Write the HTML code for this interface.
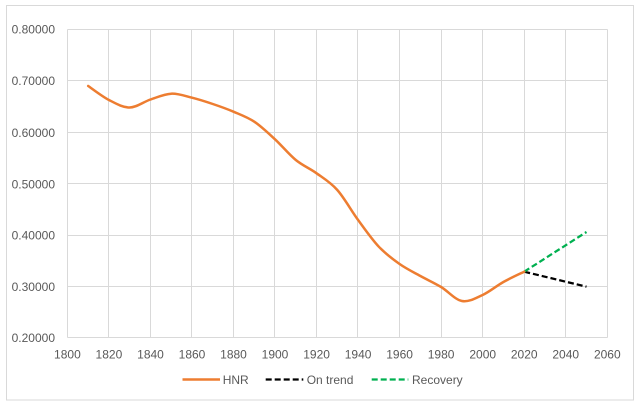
<!DOCTYPE html>
<html>
<head>
<meta charset="utf-8">
<style>
  html, body { margin: 0; padding: 0; background: #ffffff; }
  body { width: 639px; height: 406px; overflow: hidden; }
  svg { display: block; }
  text { font-family: "Liberation Sans", Arial, sans-serif; font-size: 12px; fill: #595959; }
</style>
</head>
<body>
<svg width="639" height="406" viewBox="0 0 639 406" xmlns="http://www.w3.org/2000/svg">
  <rect x="0" y="0" width="639" height="406" fill="#ffffff"/>
  <rect x="6.5" y="5.5" width="627" height="394.5" fill="#ffffff" stroke="#d9d9d9" stroke-width="1"/>

  <!-- horizontal gridlines -->
  <g stroke="#d9d9d9" stroke-width="1" shape-rendering="crispEdges">
    <line x1="67.4" y1="29.5" x2="607.3" y2="29.5"/>
    <line x1="67.4" y1="80.5" x2="607.3" y2="80.5"/>
    <line x1="67.4" y1="132.5" x2="607.3" y2="132.5"/>
    <line x1="67.4" y1="183.5" x2="607.3" y2="183.5"/>
    <line x1="67.4" y1="235.5" x2="607.3" y2="235.5"/>
    <line x1="67.4" y1="286.5" x2="607.3" y2="286.5"/>
    <line x1="67.4" y1="337.5" x2="607.3" y2="337.5"/>
  </g>
  <!-- vertical gridlines -->
  <g stroke="#d9d9d9" stroke-width="1" shape-rendering="crispEdges">
    <line x1="67.5" y1="29.5" x2="67.5" y2="337.5"/>
    <line x1="108.5" y1="29.5" x2="108.5" y2="337.5"/>
    <line x1="150.5" y1="29.5" x2="150.5" y2="337.5"/>
    <line x1="191.5" y1="29.5" x2="191.5" y2="337.5"/>
    <line x1="233.5" y1="29.5" x2="233.5" y2="337.5"/>
    <line x1="274.5" y1="29.5" x2="274.5" y2="337.5"/>
    <line x1="316.5" y1="29.5" x2="316.5" y2="337.5"/>
    <line x1="357.5" y1="29.5" x2="357.5" y2="337.5"/>
    <line x1="399.5" y1="29.5" x2="399.5" y2="337.5"/>
    <line x1="441.5" y1="29.5" x2="441.5" y2="337.5"/>
    <line x1="482.5" y1="29.5" x2="482.5" y2="337.5"/>
    <line x1="524.5" y1="29.5" x2="524.5" y2="337.5"/>
    <line x1="565.5" y1="29.5" x2="565.5" y2="337.5"/>
    <line x1="607.5" y1="29.5" x2="607.5" y2="337.5"/>
  </g>

  <!-- y labels -->
  <g text-anchor="end">
    <text x="55" y="33.6">0.80000</text>
    <text x="55" y="84.9">0.70000</text>
    <text x="55" y="136.9">0.60000</text>
    <text x="55" y="188.3">0.50000</text>
    <text x="55" y="239.6">0.40000</text>
    <text x="55" y="290.9">0.30000</text>
    <text x="55" y="341.9">0.20000</text>
  </g>

  <!-- x labels -->
  <g text-anchor="middle">
    <text x="67.4" y="358.3">1800</text>
    <text x="108.9" y="358.3">1820</text>
    <text x="150.5" y="358.3">1840</text>
    <text x="192.0" y="358.3">1860</text>
    <text x="233.5" y="358.3">1880</text>
    <text x="275.0" y="358.3">1900</text>
    <text x="316.6" y="358.3">1920</text>
    <text x="358.1" y="358.3">1940</text>
    <text x="399.6" y="358.3">1960</text>
    <text x="441.1" y="358.3">1980</text>
    <text x="482.7" y="358.3">2000</text>
    <text x="524.2" y="358.3">2020</text>
    <text x="565.7" y="358.3">2040</text>
    <text x="607.3" y="358.3">2060</text>
  </g>

  <!-- projections -->
  <line x1="524.2" y1="271.7" x2="586.5" y2="286.7" stroke="#000000" stroke-width="2.25" stroke-dasharray="6 3"/>
  <line x1="524.2" y1="271.7" x2="586.5" y2="232" stroke="#00B050" stroke-width="2.25" stroke-dasharray="6 3"/>

  <!-- HNR series -->
  <path fill="none" stroke="#ED7D31" stroke-width="2.5" stroke-linecap="round" stroke-linejoin="round"
    d="M88.2,86
    C91.66,88.33 102.08,96.42 109.0,100
    C115.92,103.58 122.78,107.58 129.7,107.5
    C136.62,107.42 143.58,101.8 150.5,99.5
    C157.42,97.2 164.28,94.0 171.2,93.7
    C178.12,93.4 185.08,95.98 192.0,97.7
    C198.92,99.42 205.88,101.67 212.8,104
    C219.72,106.33 226.58,108.75 233.5,111.7
    C240.42,114.65 247.38,117.1 254.3,121.7
    C261.22,126.3 268.08,132.92 275.0,139.3
    C281.92,145.68 288.88,154.33 295.8,160
    C302.72,165.67 309.68,168.3 316.6,173.3
    C323.52,178.3 330.38,182.22 337.3,190
    C344.22,197.78 351.18,210.55 358.1,220
    C365.02,229.45 371.88,239.37 378.8,246.7
    C385.72,254.03 392.68,259.12 399.6,264
    C406.52,268.88 413.48,272.17 420.4,276
    C427.32,279.83 434.18,282.83 441.1,287
    C448.02,291.17 454.98,299.67 461.9,301
    C468.82,302.33 475.68,298.17 482.6,295
    C489.52,291.83 496.48,285.88 503.4,282
    C510.32,278.12 520.74,273.42 524.2,271.7"/>

  <!-- legend -->
  <line x1="182.5" y1="379.5" x2="220" y2="379.5" stroke="#ED7D31" stroke-width="2.5"/>
  <text x="222.7" y="383.8">HNR</text>
  <line x1="265.7" y1="379.5" x2="303.3" y2="379.5" stroke="#000000" stroke-width="2.25" stroke-dasharray="6 3"/>
  <text x="306.7" y="383.8">On trend</text>
  <line x1="371.7" y1="379.5" x2="408.3" y2="379.5" stroke="#00B050" stroke-width="2.25" stroke-dasharray="6 3"/>
  <text x="412" y="383.8">Recovery</text>
</svg>
</body>
</html>
